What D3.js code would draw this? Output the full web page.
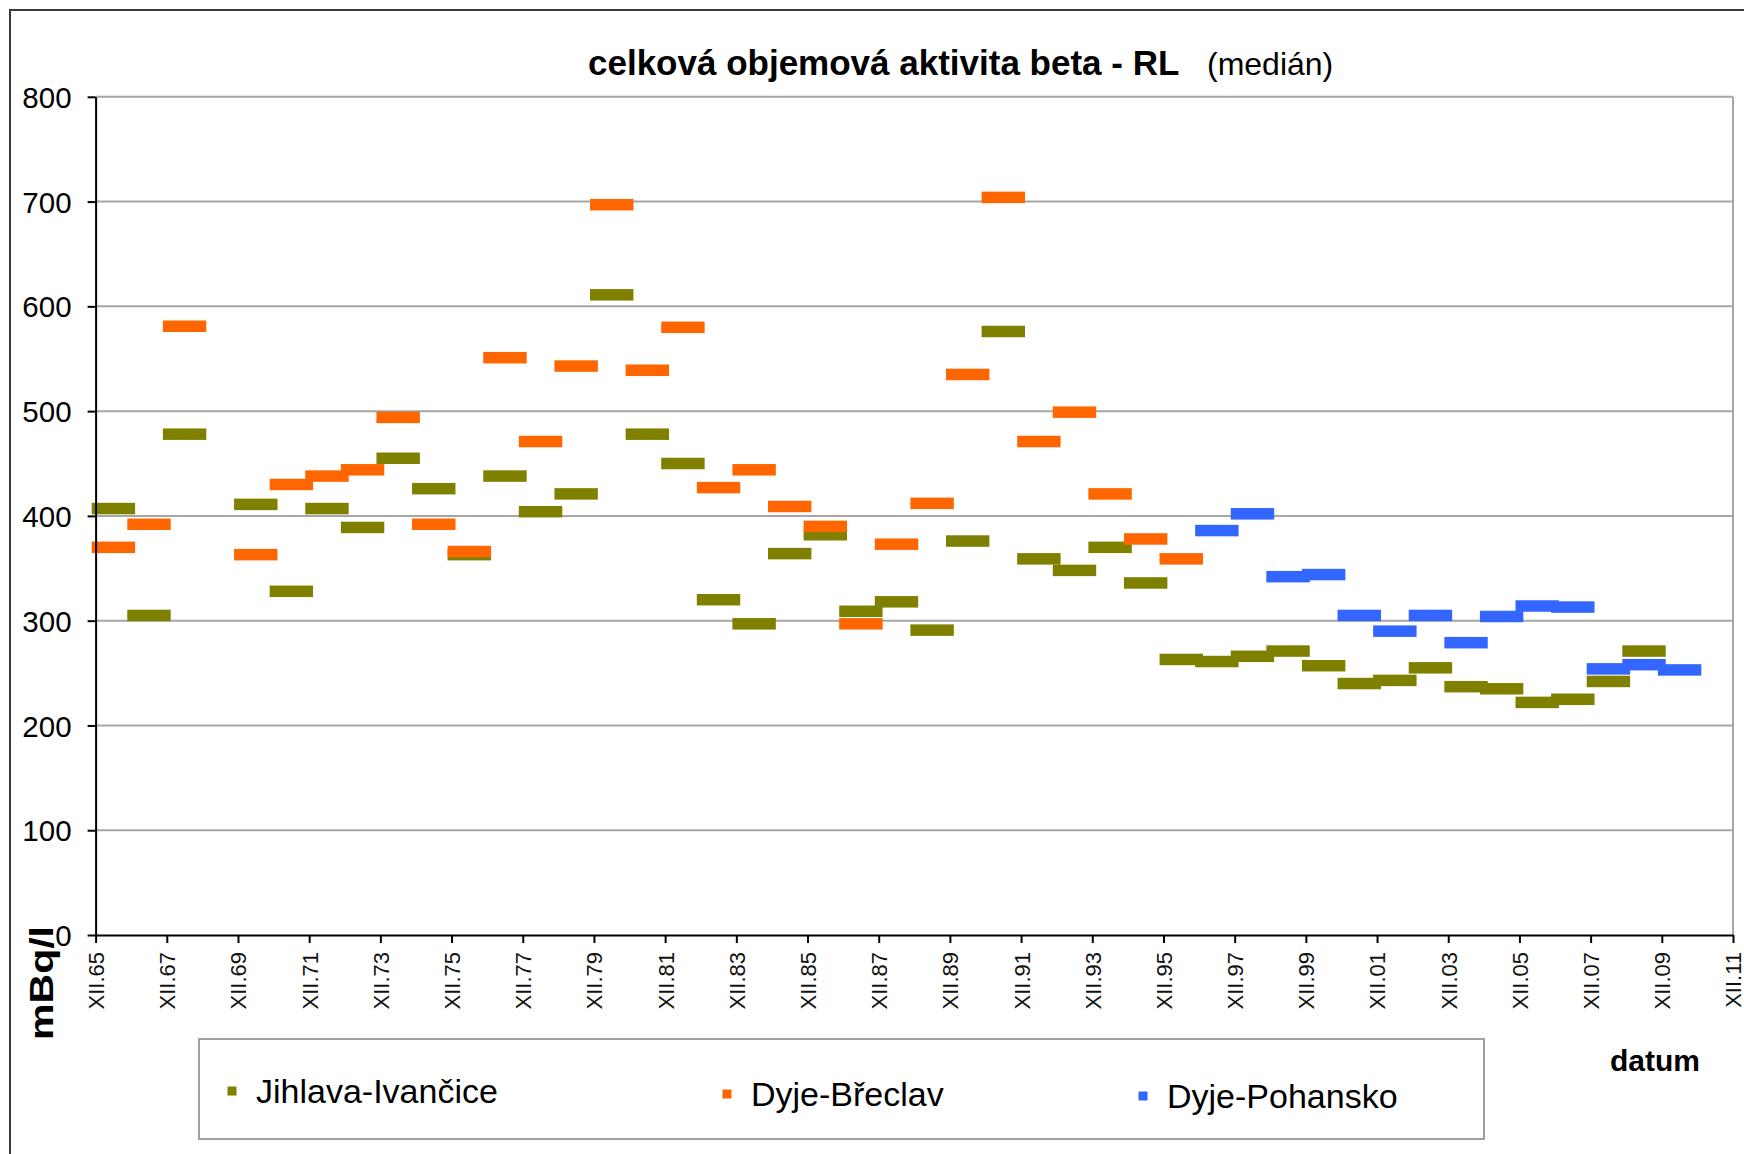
<!DOCTYPE html>
<meta charset="utf-8">
<style>
  body { margin: 0; background: #fff; }
  svg { display: block; font-family: "Liberation Sans", Arial, sans-serif; }
  .grid line { stroke: #a6a6a6; stroke-width: 2; }
  .axis .domain { stroke: #000; stroke-width: 2; }
  .axis .tick line { stroke: #000; stroke-width: 2; }
  .axis--y text { font-size: 29.5px; fill: #000; }
  .axis--x text { font-size: 22px; fill: #111; }
</style>
<svg width="1744" height="1154"></svg>
<script src="https://cdn.jsdelivr.net/npm/d3@7"></script>
<script>
  // years 1965 .. 2009, null = no value
  var years = [1965, 1966, 1967, 1968, 1969, 1970, 1971, 1972, 1973, 1974,
    1975, 1976, 1977, 1978, 1979, 1980, 1981, 1982, 1983, 1984,
    1985, 1986, 1987, 1988, 1989, 1990, 1991, 1992, 1993, 1994,
    1995, 1996, 1997, 1998, 1999, 2000, 2001, 2002, 2003, 2004,
    2005, 2006, 2007, 2008, 2009];

  var jihlava = [407, 305, 478, null, 411, 328, 407, 389, 455, 426,
    363, 438, 404, 421, 611, 478, 450, 320, 297, 364,
    382, 309, 318, 291, 376, 576, 359, 348, 370, 336,
    263, 261, 266, 271, 257, 240, 243, 255, 237, 235,
    222, 225, 242, 271, null];

  var breclav = [370, 392, 581, null, 363, 430, 438, 444, 494, 392,
    366, 551, 471, 543, 697, 539, 580, 427, 444, 409,
    390, 297, 373, 412, 535, 704, 471, 499, 421, 378,
    359, null, null, null, null, null, null, null, null, null,
    null, null, null, null, null];

  var pohansko = [null, null, null, null, null, null, null, null, null, null,
    null, null, null, null, null, null, null, null, null, null,
    null, null, null, null, null, null, null, null, null, null,
    null, 386, 402, 342, 344, 305, 290, 305, 279, 304,
    314, 313, 254, 258, 253];

  var seriesNames = ["Jihlava-Ivančice", "Dyje-Břeclav", "Dyje-Pohansko"];
  var seriesColors = ["#808000", "#ff6600", "#3366ff"];

  var tickYears = [1965, 1967, 1969, 1971, 1973, 1975, 1977, 1979, 1981, 1983,
    1985, 1987, 1989, 1991, 1993, 1995, 1997, 1999, 2001, 2003, 2005, 2007,
    2009, 2011];
  var tickLabels = ["XII.65", "XII.67", "XII.69", "XII.71", "XII.73", "XII.75",
    "XII.77", "XII.79", "XII.81", "XII.83", "XII.85", "XII.87", "XII.89",
    "XII.91", "XII.93", "XII.95", "XII.97", "XII.99", "XII.01", "XII.03",
    "XII.05", "XII.07", "XII.09", "XII.11"];
  var yTicks = [0, 100, 200, 300, 400, 500, 600, 700, 800];

  var svg = d3.select("svg");
  var plot = { left: 95.6, right: 1733, top: 96.8, bottom: 935 };

  var x = d3.scaleLinear().domain([1965, 2011]).range([plot.left, plot.right]);
  var y = d3.scaleLinear().domain([0, 800]).range([plot.bottom, plot.top]);

  // outer frame (only left and top edges are inside the picture)
  svg.append("path")
    .attr("d", "M10,1160V10H1750")
    .attr("fill", "none")
    .attr("stroke", "#3a3a3a")
    .attr("stroke-width", 2);

  // gridlines
  svg.append("g")
    .attr("class", "grid")
    .selectAll("line")
    .data(yTicks.filter(function(d) { return d > 0; }))
    .enter().append("line")
    .attr("x1", plot.left).attr("x2", plot.right)
    .attr("y1", function(d) { return y(d); })
    .attr("y2", function(d) { return y(d); });

  // right border of the plot
  svg.append("line")
    .attr("x1", plot.right).attr("x2", plot.right)
    .attr("y1", y(800)).attr("y2", y(0))
    .attr("stroke", "#a6a6a6").attr("stroke-width", 2);

  // bars (dash markers), one year wide and a bit more
  var barW = (x(1966) - x(1965)) * 1.22, barH = 11.5;
  var all = [jihlava, breclav, pohansko];
  all.forEach(function(vals, si) {
    var pts = years.map(function(yr, i) { return { year: yr, v: vals[i] }; })
      .filter(function(d) { return d.v != null; });
    svg.append("g")
      .selectAll("rect")
      .data(pts)
      .enter().append("rect")
      .attr("x", function(d) { return x(d.year + 0.5) - barW / 2; })
      .attr("y", function(d) { return y(d.v) - barH / 2; })
      .attr("width", barW)
      .attr("height", barH)
      .attr("fill", seriesColors[si]);
  });

  // y axis
  svg.append("g")
    .attr("class", "axis axis--y")
    .attr("transform", "translate(" + plot.left + ",0)")
    .call(d3.axisLeft(y).tickValues(yTicks).tickSize(8).tickPadding(16).tickSizeOuter(0))
    .selectAll("text").attr("dy", "0.36em");

  // x axis
  var xa = svg.append("g")
    .attr("class", "axis axis--x")
    .attr("transform", "translate(0," + plot.bottom + ")")
    .call(d3.axisBottom(x).tickValues(tickYears)
      .tickFormat(function(d, i) { return tickLabels[i]; })
      .tickSize(8).tickSizeOuter(0));
  xa.selectAll("text")
    .attr("transform", "rotate(-90)")
    .attr("text-anchor", "end")
    .attr("x", -17)
    .attr("y", 0)
    .attr("dy", "0.36em");

  // title
  svg.append("text")
    .attr("x", 588).attr("y", 75)
    .style("font-size", "35px").style("font-weight", "bold")
    .text("celková objemová aktivita beta - RL");
  svg.append("text")
    .attr("x", 1207).attr("y", 75)
    .style("font-size", "32px")
    .text("(medián)");

  // axis titles
  svg.append("text")
    .attr("transform", "translate(53,983) rotate(-90)")
    .attr("text-anchor", "middle")
    .attr("textLength", 114)
    .attr("lengthAdjust", "spacingAndGlyphs")
    .style("font-size", "33px").style("font-weight", "bold")
    .text("mBq/l");
  svg.append("text")
    .attr("x", 1610).attr("y", 1071)
    .style("font-size", "30px").style("font-weight", "bold")
    .text("datum");

  // legend
  var legend = svg.append("g");
  legend.append("rect")
    .attr("x", 199).attr("y", 1039)
    .attr("width", 1285).attr("height", 100)
    .attr("fill", "#fff")
    .attr("stroke", "#a0a0a0").attr("stroke-width", 2);
  var legX = [232, 727, 1143], legY = [1091, 1094, 1096];
  seriesNames.forEach(function(name, i) {
    legend.append("rect")
      .attr("x", legX[i] - 4.5).attr("y", legY[i] - 4.5)
      .attr("width", 9).attr("height", 9)
      .attr("fill", seriesColors[i]);
    legend.append("text")
      .attr("x", legX[i] + 24).attr("y", legY[i] + 12)
      .style("font-size", "34px")
      .text(name);
  });
</script>
